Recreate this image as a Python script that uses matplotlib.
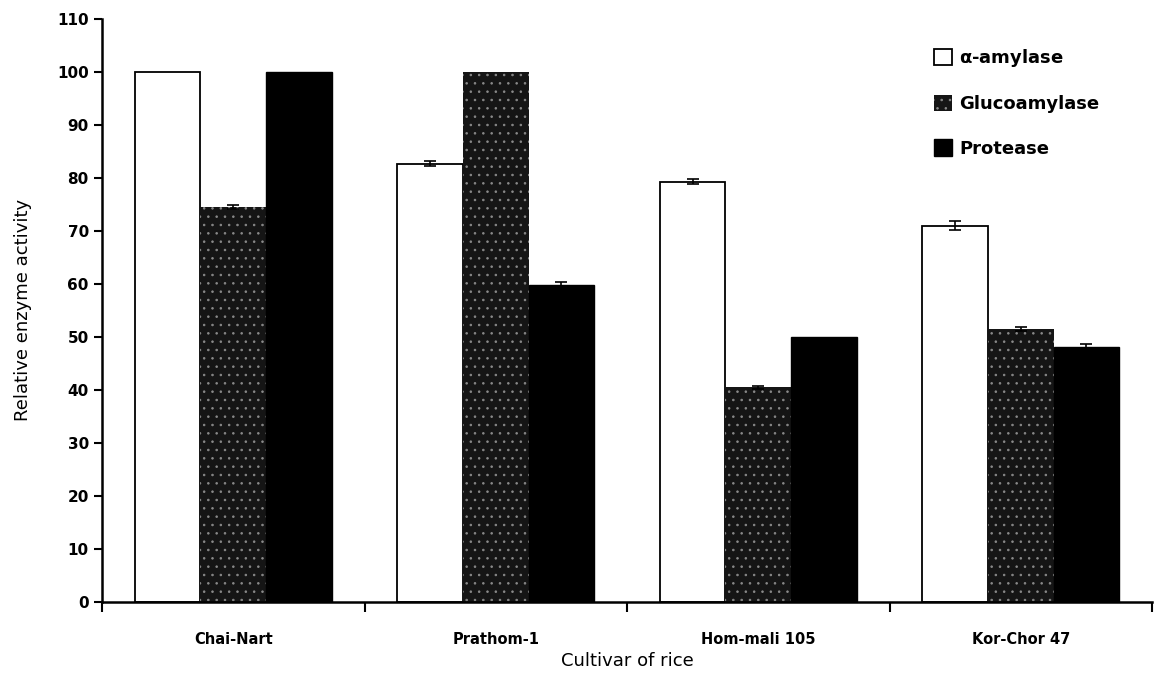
import numpy as np
import matplotlib.pyplot as plt

# Datos
cultivars = ['Chai-Nart', 'Prathom-1', 'Hom-mali 105', 'Kor-Chor 47']
alpha_amylase = [100.0, 82.7, 79.3, 71.0]
alpha_err = [np.nan, 0.5, 0.5, 0.9]
glucoamylase = [74.5, 100.0, 40.5, 51.5]
gluco_err = [0.4, np.nan, 0.3, 0.4]
protease = [100.0, 59.8, 50.0, 48.0]
protease_err = [np.nan, 0.5, np.nan, 0.6]

plt.rcParams['hatch.linewidth'] = 0.6

fig = plt.figure(figsize=(11.59, 6.77), dpi=100)
ax = fig.add_axes([0.088, 0.111, 0.906, 0.861])

x = np.arange(len(cultivars))
w = 0.25
err_kw = dict(fmt='none', ecolor='black', capsize=4, elinewidth=1.2, capthick=1.2, zorder=3)

ax.bar(x - w, alpha_amylase, w, color='white', edgecolor='black',
       linewidth=1.3, label=r'$\mathbf{\alpha}$-amylase', zorder=2)
ax.bar(x, glucoamylase, w, color='#151515', edgecolor='#8a8a8a',
       linewidth=0, hatch='..', label='Glucoamylase', zorder=2)
ax.bar(x + w, protease, w, color='black', edgecolor='black',
       linewidth=1, label='Protease', zorder=2)

# Barras de error (solo donde se ven)
ax.errorbar(x - w, alpha_amylase, yerr=alpha_err, **err_kw)
ax.errorbar(x, glucoamylase, yerr=gluco_err, **err_kw)
ax.errorbar(x + w, protease, yerr=protease_err, **err_kw)

ax.set_xlim(-0.5, len(cultivars) - 0.5)
ax.set_ylim(0, 110)
ax.set_yticks(np.arange(0, 111, 10))
ax.set_xticks(x)
ax.set_xticklabels(cultivars, fontsize=10.5, fontweight='semibold')
ax.set_xticks(np.arange(-0.5, len(cultivars)), minor=True)
ax.tick_params(axis='x', which='major', length=0, pad=22)
ax.tick_params(axis='x', which='minor', length=7, width=1.5, direction='out')
ax.tick_params(axis='y', length=6, width=1.5, direction='out', labelsize=11)
for lab in ax.get_yticklabels():
    lab.set_fontweight('bold')

for s in ['top', 'right']:
    ax.spines[s].set_visible(False)
for s in ['left', 'bottom']:
    ax.spines[s].set_linewidth(1.8)

ax.set_xlabel('Cultivar of rice', fontsize=13, labelpad=3)
ax.set_ylabel('Relative enzyme activity', fontsize=13, labelpad=18)

leg = ax.legend(loc='upper right', bbox_to_anchor=(0.965, 0.98), frameon=False,
                fontsize=13, handlelength=1.0, handleheight=1.0,
                handletextpad=0.4, labelspacing=1.45)
for t in leg.get_texts():
    t.set_fontweight('semibold')

plt.savefig('out.png', dpi=100)
